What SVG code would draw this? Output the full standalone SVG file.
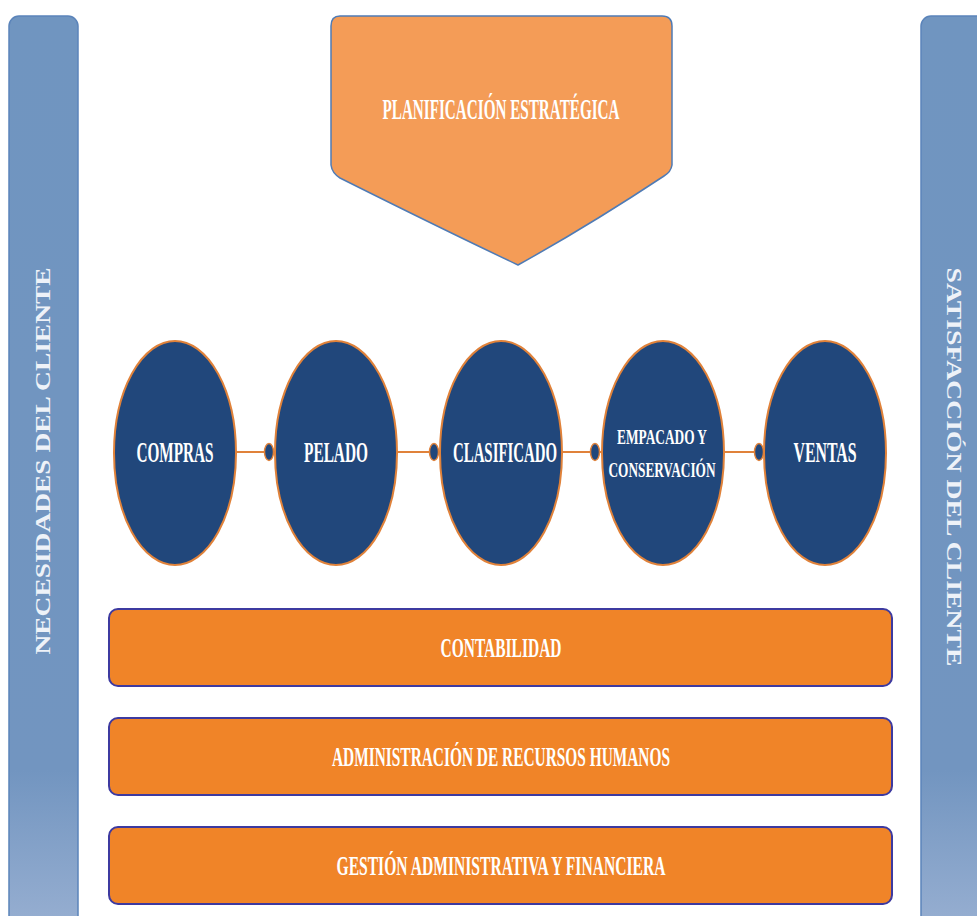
<svg xmlns="http://www.w3.org/2000/svg" width="977" height="916" viewBox="0 0 977 916">
<defs>
<linearGradient id="barg" x1="0" y1="0" x2="0" y2="1">
<stop offset="0" stop-color="#7095c0"/>
<stop offset="0.82" stop-color="#7295c0"/>
<stop offset="1" stop-color="#99b0d2"/>
</linearGradient>
<style>
.bar{fill:url(#barg);stroke:#5b84ba;stroke-width:1.5}
.vt{font-family:"Liberation Serif",serif;font-weight:bold;font-size:20px;fill:#eef2f8}
.t{font-family:"Liberation Serif",serif;font-weight:bold;fill:#ffffff;text-anchor:middle}
.ell{fill:#21477b;stroke:#e0823a;stroke-width:2}
.box{fill:#f08428;stroke:#3d3aa0;stroke-width:2}
.con{stroke:#e0823a;stroke-width:2;fill:none}
.dot{fill:#21477b;stroke:#e0823a;stroke-width:1.5}
</style>
</defs>
<rect width="977" height="916" fill="#ffffff"/>
<g id="necesidades">
<rect class="bar" x="9" y="16" width="69" height="920" rx="10"/>
<text class="vt" transform="translate(50,461) rotate(-90)" text-anchor="middle" textLength="387" lengthAdjust="spacingAndGlyphs">NECESIDADES DEL CLIENTE</text>
</g>
<g id="satisfaccion">
<rect class="bar" x="921" y="16" width="69" height="920" rx="10"/>
<text class="vt" transform="translate(947,467) rotate(90)" text-anchor="middle" textLength="399" lengthAdjust="spacingAndGlyphs">SATISFACCIÓN DEL CLIENTE</text>
</g>
<g id="planificacion">
<path d="M340,16 L662,16 Q672,16 672,26 L672,165 Q671,172 664,176 Q590,225 518,265 Q440,228 340,178 Q332,173 331,165 L331,26 Q331,16 340,16 Z" fill="#f49c57" stroke="#4f7bb5" stroke-width="1.5"/>
<text class="t" x="501" y="119" font-size="29" textLength="237" lengthAdjust="spacingAndGlyphs">PLANIFICACIÓN ESTRATÉGICA</text>
</g>
<g id="connectors">
<line class="con" x1="236" y1="452" x2="275" y2="452"/>
<ellipse class="dot" cx="269" cy="452" rx="4.5" ry="8.5"/>
<line class="con" x1="397" y1="452" x2="440" y2="452"/>
<ellipse class="dot" cx="434" cy="452" rx="4.5" ry="8.5"/>
<line class="con" x1="562" y1="452" x2="602" y2="452"/>
<ellipse class="dot" cx="595" cy="452" rx="4.5" ry="8.5"/>
<line class="con" x1="724" y1="452" x2="765" y2="452"/>
<ellipse class="dot" cx="759" cy="452" rx="4.5" ry="8.5"/>
</g>
<g id="compras">
<ellipse class="ell" cx="175" cy="453" rx="61" ry="112"/>
<text class="t" x="175" y="462" font-size="29" textLength="77" lengthAdjust="spacingAndGlyphs">COMPRAS</text>
</g>
<g id="pelado">
<ellipse class="ell" cx="336" cy="453" rx="61" ry="112"/>
<text class="t" x="336" y="462" font-size="29" textLength="64" lengthAdjust="spacingAndGlyphs">PELADO</text>
</g>
<g id="clasificado">
<ellipse class="ell" cx="501" cy="453" rx="61" ry="112"/>
<text class="t" x="505" y="462" font-size="29" textLength="104" lengthAdjust="spacingAndGlyphs">CLASIFICADO</text>
</g>
<g id="empacado">
<ellipse class="ell" cx="663" cy="453" rx="61" ry="112"/>
<text class="t" font-size="22"><tspan x="662" y="444" textLength="90" lengthAdjust="spacingAndGlyphs">EMPACADO Y</tspan><tspan x="662" y="477" textLength="107" lengthAdjust="spacingAndGlyphs">CONSERVACIÓN</tspan></text>
</g>
<g id="ventas">
<ellipse class="ell" cx="825" cy="453" rx="61" ry="112"/>
<text class="t" x="825" y="462" font-size="29" textLength="63" lengthAdjust="spacingAndGlyphs">VENTAS</text>
</g>
<g id="contabilidad">
<rect class="box" x="109" y="609" width="783" height="77" rx="9"/>
<text class="t" x="501" y="657" font-size="28" textLength="121" lengthAdjust="spacingAndGlyphs">CONTABILIDAD</text>
</g>
<g id="rrhh">
<rect class="box" x="109" y="718" width="783" height="77" rx="9"/>
<text class="t" x="501" y="766" font-size="28" textLength="338" lengthAdjust="spacingAndGlyphs">ADMINISTRACIÓN DE RECURSOS HUMANOS</text>
</g>
<g id="gestion">
<rect class="box" x="109" y="827" width="783" height="77" rx="9"/>
<text class="t" x="501" y="875" font-size="28" textLength="329" lengthAdjust="spacingAndGlyphs">GESTIÓN ADMINISTRATIVA Y FINANCIERA</text>
</g>
</svg>
